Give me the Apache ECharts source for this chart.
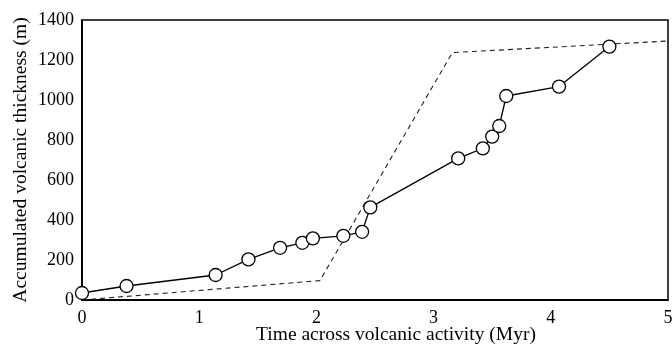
<!DOCTYPE html>
<html>
<head>
<meta charset="utf-8">
<script src="https://cdn.jsdelivr.net/npm/echarts@6/dist/echarts.min.js"></script>
<style>
  html, body { margin: 0; padding: 0; background: #fff; }
  #chart { width: 672px; height: 346px; }
</style>
</head>
<body>
<div id="chart"></div>
<script>
// measured section (Myr, m)
const timeMyr = [0, 0.38, 1.14, 1.42, 1.69, 1.88, 1.97, 2.23, 2.39, 2.46, 3.21, 3.42, 3.50, 3.56, 3.62, 4.07, 4.50];
const thickness = [35, 70, 125, 203, 261, 286, 308, 321, 341, 463, 708, 758, 817, 870, 1020, 1067, 1267];

// dashed reference trend
const trendTime = [0, 2.03, 3.16, 5];
const trendThickness = [0, 97, 1237, 1295];

const font = "Liberation Serif";

const chart = echarts.init(document.getElementById("chart"), null, { renderer: "canvas" });

chart.setOption({
  backgroundColor: "#fff",
  animation: false,
  grid: {
    left: 82,
    right: 4,
    top: 20,
    bottom: 46,
    outerBoundsMode: "none",
    show: true,
    borderColor: "#000",
    borderWidth: 1.5,
  },
  xAxis: {
    type: "value",
    min: 0,
    max: 5,
    interval: 1,
    name: "Time across volcanic activity (Myr)",
    nameLocation: "middle",
    nameGap: 25,
    nameMoveOverlap: false,
    nameTextStyle: { fontFamily: font, fontSize: 19.5, color: "#000", padding: [0, 0, 0, 42] },
    axisLine: { onZero: false, lineStyle: { color: "#000", width: 2 } },
    axisTick: { show: false },
    splitLine: { show: false },
    axisLabel: { fontFamily: font, fontSize: 18, color: "#000", margin: 9 },
  },
  yAxis: {
    type: "value",
    min: 0,
    max: 1400,
    interval: 200,
    name: "Accumulated volcanic thickness (m)",
    nameLocation: "middle",
    nameGap: 51,
    nameMoveOverlap: false,
    nameTextStyle: { fontFamily: font, fontSize: 19.5, color: "#000" },
    axisLine: { show: true, lineStyle: { color: "#000", width: 2 } },
    axisTick: { show: false },
    splitLine: { show: false },
    axisLabel: { fontFamily: font, fontSize: 18, color: "#000", margin: 8, formatter: (v) => String(v) },
  },
  series: [
    {
      type: "line",
      data: trendTime.map((t, i) => [t, trendThickness[i]]),
      symbol: "none",
      lineStyle: { color: "#222", width: 1.1, type: [5, 4] },
      z: 1,
    },
    {
      type: "line",
      data: timeMyr.map((t, i) => [t, thickness[i]]),
      symbol: "circle",
      symbolSize: 13,
      itemStyle: { color: "#fff", borderColor: "#000", borderWidth: 1.3 },
      lineStyle: { color: "#000", width: 1.3 },
      z: 2,
    },
  ],
});
</script>
</body>
</html>
